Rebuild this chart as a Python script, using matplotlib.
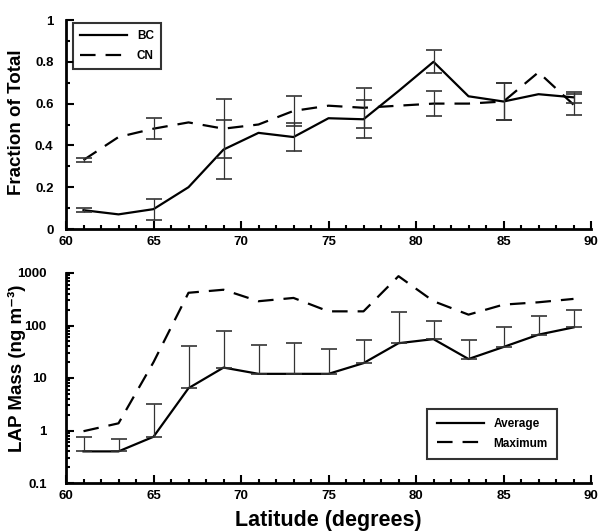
import matplotlib
matplotlib.use("Agg")
import matplotlib.pyplot as plt
import numpy as np
from matplotlib.ticker import MultipleLocator, LogLocator, NullFormatter, FixedLocator

plt.rcParams['font.family'] = ['Liberation Sans', 'DejaVu Sans']
plt.rcParams['font.weight'] = 'bold'

lat = [61, 63, 65, 67, 69, 71, 73, 75, 77, 79, 81, 83, 85, 87, 89]
bc = [0.09, 0.07, 0.095, 0.20, 0.38, 0.46, 0.44, 0.53, 0.525, 0.66, 0.80, 0.635, 0.61, 0.645, 0.63]
cn = [0.33, 0.44, 0.48, 0.51, 0.48, 0.50, 0.565, 0.59, 0.58, 0.59, 0.60, 0.60, 0.61, 0.75, 0.595]

err_lat = [61, 65, 69, 73, 77, 81, 85, 89]
bc_err_val = [0.09, 0.095, 0.38, 0.44, 0.525, 0.80, 0.61, 0.63]
bc_err = [0.01, 0.05, 0.14, 0.065, 0.09, 0.055, 0.09, 0.025]
cn_err_val = [0.33, 0.48, 0.48, 0.565, 0.58, 0.60, 0.61, 0.595]
cn_err = [0.01, 0.05, 0.14, 0.07, 0.095, 0.06, 0.09, 0.05]

avg = [0.40, 0.40, 0.76, 6.4, 15.8, 12, 12, 12, 19.2, 46, 55, 23, 39, 67, 92]
avg_upper = [0.74, 0.68, 3.2, 40, 77, 42, 46, 36, 53, 181, 123, 53, 92, 149, 194]
mx = [0.97, 1.37, 20, 420, 480, 290, 335, 186, 186, 870, 290, 161, 250, 277, 321]

W, H = 599, 531
fig = plt.figure(figsize=(W / 100, H / 100), dpi=100)

def ax_rect(x0, y0, x1, y1):
    return [x0 / W, 1 - y1 / H, (x1 - x0) / W, (y1 - y0) / H]

ax1 = fig.add_axes(ax_rect(66, 20, 591, 229))
ax2 = fig.add_axes(ax_rect(66, 273, 591, 483))

dash = (0, (7, 4.5))

def style(ax, ypad):
    for s in ['top', 'right']:
        ax.spines[s].set_visible(False)
    for s in ['left', 'bottom']:
        ax.spines[s].set_linewidth(2)
    ax.tick_params(which='both', direction='in', width=1.5, labelsize=9.5)
    ax.tick_params(axis='x', which='both', pad=5)
    ax.tick_params(axis='y', which='both', pad=ypad)
    ax.tick_params(which='major', length=6)
    ax.tick_params(which='minor', length=3)
    ax.set_xlim(60, 90)
    ax.xaxis.set_major_locator(MultipleLocator(5))
    ax.xaxis.set_minor_locator(MultipleLocator(1))
    for lab in ax.get_xticklabels() + ax.get_yticklabels():
        lab.set_fontweight('bold')

# Top panel
ax1.plot(lat, bc, color='black', lw=1.6, label='BC')
ax1.plot(lat, cn, color='black', lw=1.6, linestyle=dash, label='CN')
ax1.errorbar(err_lat, bc_err_val, yerr=bc_err, fmt='none', ecolor='#333333', elinewidth=0.9, capsize=5.5, capthick=1.2)
ax1.errorbar(err_lat, cn_err_val, yerr=cn_err, fmt='none', ecolor='#333333', elinewidth=0.9, capsize=5.5, capthick=1.2)
ax1.set_ylim(0, 1)
ax1.yaxis.set_major_locator(FixedLocator([0, 0.2, 0.4, 0.6, 0.8, 1]))
ax1.yaxis.set_minor_locator(MultipleLocator(0.1))
ax1.set_yticklabels(['0', '0.2', '0.4', '0.6', '0.8', '1'])
style(ax1, 9)
ax1.set_ylabel('Fraction of Total', fontsize=13.5, fontweight='bold')
ax1.yaxis.set_label_coords((25 - 66) / 525, (229 - 122) / 209)
leg1 = ax1.legend(loc='upper left', bbox_to_anchor=((73 - 66) / 525, (229 - 23) / 209), borderaxespad=0,
                  frameon=True, fancybox=False, edgecolor='black', handlelength=4, borderpad=0.6,
                  labelspacing=0.7, prop={'weight': 'bold', 'size': 8.5})
leg1.get_frame().set_linewidth(1.5)

# Bottom panel
ax2.set_yscale('log')
ax2.plot(lat, avg, color='black', lw=1.6, label='Average')
ax2.plot(lat, mx, color='black', lw=1.6, linestyle=dash, label='Maximum')
up = np.array(avg_upper) - np.array(avg)
ax2.errorbar(lat, avg, yerr=[np.zeros_like(up), up], fmt='none', ecolor='#333333', elinewidth=0.9,
             capsize=5.5, capthick=1.2)
ax2.set_ylim(0.1, 1000)
ax2.yaxis.set_major_locator(FixedLocator([0.1, 1, 10, 100, 1000]))
ax2.set_yticklabels(['0.1', '1', '10', '100', '1000'])
ax2.yaxis.set_minor_locator(LogLocator(base=10, subs=np.arange(2, 10)))
ax2.yaxis.set_minor_formatter(NullFormatter())
style(ax2, 14)
ax2.set_ylabel('LAP Mass (ng m\u207b\u00b3)', fontsize=13.5, fontweight='bold')
ax2.yaxis.set_label_coords((26 - 66) / 525, (483 - 368) / 210)
ax2.set_xlabel('Latitude (degrees)', fontsize=15.5, fontweight='bold')
ax2.xaxis.set_label_coords((328 - 66) / 525, -(510 - 483) / 210)
leg2 = ax2.legend(loc='lower right', bbox_to_anchor=((557 - 66) / 525, (483 - 459) / 210), borderaxespad=0,
                  frameon=True, fancybox=False, edgecolor='black', handlelength=4, borderpad=0.8,
                  labelspacing=0.6, prop={'weight': 'bold', 'size': 8.5})
leg2.get_frame().set_linewidth(1.5)

fig.savefig('out.png', dpi=100)
